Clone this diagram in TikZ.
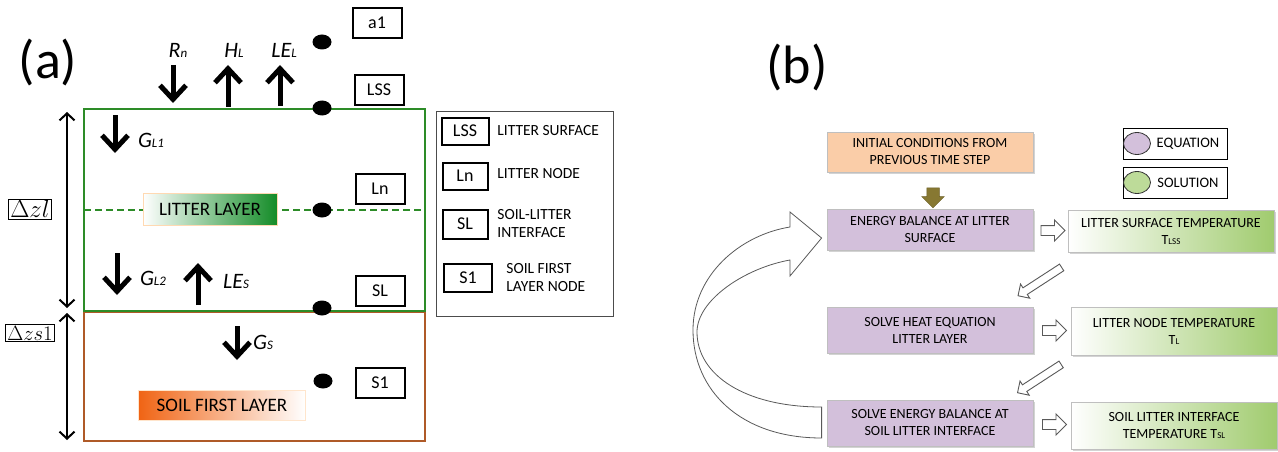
\documentclass[tikz,border=0pt]{standalone}
\usepackage{fontspec}
\setmainfont{Carlito}
\usetikzlibrary{arrows.meta, positioning, shapes.geometric, shapes.arrows, shadows, calc}

\definecolor{layergreen}{RGB}{45,140,40}
\definecolor{litgreen}{RGB}{20,140,40}
\definecolor{soilbrown}{RGB}{175,90,40}
\definecolor{soilorange}{RGB}{240,100,20}
\definecolor{eqpurple}{RGB}{211,192,219}
\definecolor{initorange}{RGB}{250,205,168}
\definecolor{solgreen}{RGB}{160,203,110}
\definecolor{olivearrow}{RGB}{135,120,50}

\newcommand{\sub}[1]{{\fontsize{9}{9}\selectfont #1}}
\newcommand{\fluxsub}[1]{{\fontsize{13}{13}\selectfont #1}}

\tikzset{
  tag/.style={draw, line width=2pt, minimum width=49pt, minimum height=30pt, inner sep=0pt, font=\fontsize{18}{18}\selectfont},
  dot/.style={ellipse, fill=black, minimum width=19pt, minimum height=15pt, inner sep=0pt},
  flux/.style={line width=5pt, -{Straight Barb[length=14pt, width=26pt]}},
  fluxlabel/.style={font=\fontsize{22}{22}\selectfont\itshape, inner sep=0pt},
  depth/.style={line width=2pt, {Straight Barb[length=7pt, width=15pt]}-{Straight Barb[length=7pt, width=15pt]}},
  depthlabel/.style={draw, line width=0.6pt, inner sep=1.5pt},
  legtext/.style={anchor=west, align=left, font=\fontsize{15.5}{18}\selectfont, inner sep=0pt},
  stepbox/.style={draw=gray!50, minimum width=206pt, inner sep=0pt, align=center, font=\fontsize{14}{17}\selectfont,
    drop shadow={opacity=0.35, shadow xshift=1.5pt, shadow yshift=-1.5pt}},
  eqbox/.style={stepbox, fill=eqpurple},
  solbox/.style={stepbox, left color=white, right color=solgreen},
  hollow/.style={single arrow, draw=gray!70!black, fill=white, line width=0.9pt, inner sep=4.5pt,
    minimum height=24pt, single arrow head extend=5.5pt}
}

\begin{document}
\begin{tikzpicture}[x=1pt, y=-1pt, thick]
\useasboundingbox (0,0) rectangle (1278,452);

% Panel labels
\node (labela) at (48,62) {\fontsize{54}{54}\selectfont (a)};
\node (labelb) at (797,67) {\fontsize{54}{54}\selectfont (b)};

% Draw the layers
\draw[soilbrown, line width=2pt] (84,312) rectangle (425,441);
\draw[layergreen, line width=2pt] (84,109) rectangle (425,311);
\draw[layergreen, line width=1.5pt, dash pattern=on 7pt off 4pt] (84,210) -- (425,210);

\node[draw=orange!30, line width=0.8pt, left color=white, right color=litgreen, minimum width=134pt, minimum height=32pt,
  inner sep=0pt, font=\fontsize{19}{19}\selectfont] (litter) at (210,209) {LITTER LAYER};
\node[draw=orange!20, line width=0.8pt, left color=soilorange, right color=white, minimum width=167pt, minimum height=30pt,
  inner sep=0pt, font=\fontsize{19}{19}\selectfont] (soil) at (222,405) {SOIL FIRST LAYER};

% Draw the nodes and their tags
\node[dot] (da1) at (322,42) {};
\node[tag] (a1) at (377,23) {a1};
\node[dot] (dlss) at (322,108) {};
\node[tag] (lss) at (379,90) {LSS};
\node[dot] (dln) at (322,210) {};
\node[tag] (ln) at (380,189) {Ln};
\node[dot] (dsl) at (322,308) {};
\node[tag] (sl) at (380,291) {SL};
\node[dot] (ds1) at (323,381) {};
\node[tag] (s1) at (380,383) {S1};

% Draw the fluxes
\draw[flux] (173,65) -- (173,103);
\draw[flux] (228,107) -- (228,65);
\draw[flux] (280,106) -- (280,65);
\draw[flux] (115,115) -- (115,153);
\draw[flux] (117,253) -- (117,295);
\draw[flux] (198,305) -- (198,263);
\draw[flux] (237,326) -- (237,360);

\node[fluxlabel] (rn) at (178,50) {R\fluxsub{n}};
\node[fluxlabel] (hl) at (234,50) {H\fluxsub{L}};
\node[fluxlabel] (lel) at (284,50) {LE\fluxsub{L}};
\node[fluxlabel] (gl1) at (151,140) {G\fluxsub{L1}};
\node[fluxlabel] (gl2) at (153,278) {G\fluxsub{L2}};
\node[fluxlabel] (les) at (236,281) {LE\fluxsub{S}};
\node[fluxlabel] (gs) at (263,342) {G\fluxsub{S}};

% Draw the layer thicknesses
\draw[depth] (67,112) -- (67,308);
\draw[depth] (67,313) -- (67,440);
\node[depthlabel, fill=white] (dzl) at (30,209) {\fontsize{27}{27}\selectfont$\Delta zl$};
\node[depthlabel, fill=white] (dzs) at (30,333) {\fontsize{22.5}{22.5}\selectfont$\Delta zs1$};

% Legend of panel (a)
\node[draw=gray!60!black, line width=1pt, fill=white, minimum width=177pt, minimum height=205pt, inner sep=0pt,
  drop shadow={opacity=0.3, shadow xshift=1pt, shadow yshift=-1pt}] (legenda) at (524.5,213.5) {};
\node[tag, minimum width=47pt, minimum height=27pt] (klss) at (465,131) {LSS};
\node[tag, minimum width=45pt, minimum height=27pt] (kln) at (465,176) {Ln};
\node[tag, minimum width=45pt, minimum height=29pt] (ksl) at (465,224) {SL};
\node[tag, minimum width=48pt, minimum height=28pt] (ks1) at (468,278) {S1};
\node[legtext] (tlss) at (497,131) {LITTER SURFACE};
\node[legtext] (tln) at (497,174) {LITTER NODE};
\node[legtext] (tsl) at (497,224) {SOIL-LITTER\\INTERFACE};
\node[legtext] (ts1) at (506,278) {SOIL FIRST\\LAYER NODE};

% Flow chart of panel (b)
\node[stepbox, fill=initorange, minimum height=40pt] (init) at (930,152) {INITIAL CONDITIONS FROM\\PREVIOUS TIME STEP};
\node[eqbox, minimum height=41pt] (ebal) at (930,230) {ENERGY BALANCE AT LITTER\\SURFACE};
\node[eqbox, minimum height=46pt] (heat) at (930,330) {SOLVE HEAT EQUATION\\LITTER LAYER};
\node[eqbox, minimum height=46pt] (sbal) at (930,423) {SOLVE ENERGY BALANCE AT\\SOIL LITTER INTERFACE};
\node[solbox, minimum height=42pt] (templss) at (1171,231) {LITTER SURFACE TEMPERATURE\\T\sub{LSS}};
\node[solbox, minimum height=48pt] (templn) at (1174,331) {LITTER NODE TEMPERATURE\\T\sub{L}};
\node[solbox, minimum height=47pt] (tempsl) at (1174,426) {SOIL LITTER INTERFACE\\TEMPERATURE T\sub{SL}};

\node[single arrow, fill=olivearrow, draw=olivearrow!80!black, line width=0.5pt, rotate=-90, inner sep=6pt,
  minimum height=20pt, single arrow head extend=5pt] (down) at ($(init.south)!0.5!(ebal.north)+(3,4)$) {};

\node[hollow] (h1) at ($(ebal.east)!0.5!(templss.west)$) {};
\node[hollow] (h2) at ($(heat.east)!0.5!(templn.west)$) {};
\node[hollow] (h3) at ($(sbal.east)!0.5!(tempsl.west)$) {};
\node[hollow, inner sep=3.5pt, minimum height=52pt, single arrow head extend=4.5pt, rotate=213] (d1)
  at ($(templss.south west)!0.5!(heat.north east)+(-9,1)$) {};
\node[hollow, inner sep=3.5pt, minimum height=52pt, single arrow head extend=4.5pt, rotate=213] (d2)
  at ($(templn.south west)!0.5!(sbal.north east)+(-11,0)$) {};

% Draw the loop back arrow
\draw[line width=0.8pt, draw=gray!70!black, fill=white]
  ($(sbal.west)+(-5,-16)$) .. controls (745,407) and (697,375) .. (697,332)
  .. controls (697,300) and (745,268) .. (790,260)
  -- (790,276) -- ($(ebal.west)+(-5,8)$) -- (790,212) -- (790,227)
  .. controls (740,235) and (693,275) .. (693,330)
  .. controls (693,390) and (740,438) .. ($(sbal.west)+(-5,15)$) -- cycle;

% Legend of panel (b)
\node[draw, line width=1pt, minimum width=104pt, minimum height=31pt, inner sep=0pt] (keyeq) at (1175,143.5) {};
\node[draw, line width=1pt, minimum width=104pt, minimum height=31pt, inner sep=0pt] (keysol) at (1175,182.5) {};
\node[ellipse, draw=gray!40!black, fill=eqpurple, minimum width=27pt, minimum height=22pt, inner sep=0pt] (oeq) at (1137,143.5) {};
\node[ellipse, draw=gray!40!black, fill=solgreen!70, minimum width=27pt, minimum height=22pt, inner sep=0pt] (osol) at (1137,182.5) {};
\node[font=\fontsize{14.5}{14.5}\selectfont] (teq) at (1188,144) {EQUATION};
\node[font=\fontsize{14.5}{14.5}\selectfont] (tsol) at (1188,183) {SOLUTION};

\end{tikzpicture}
\end{document}
